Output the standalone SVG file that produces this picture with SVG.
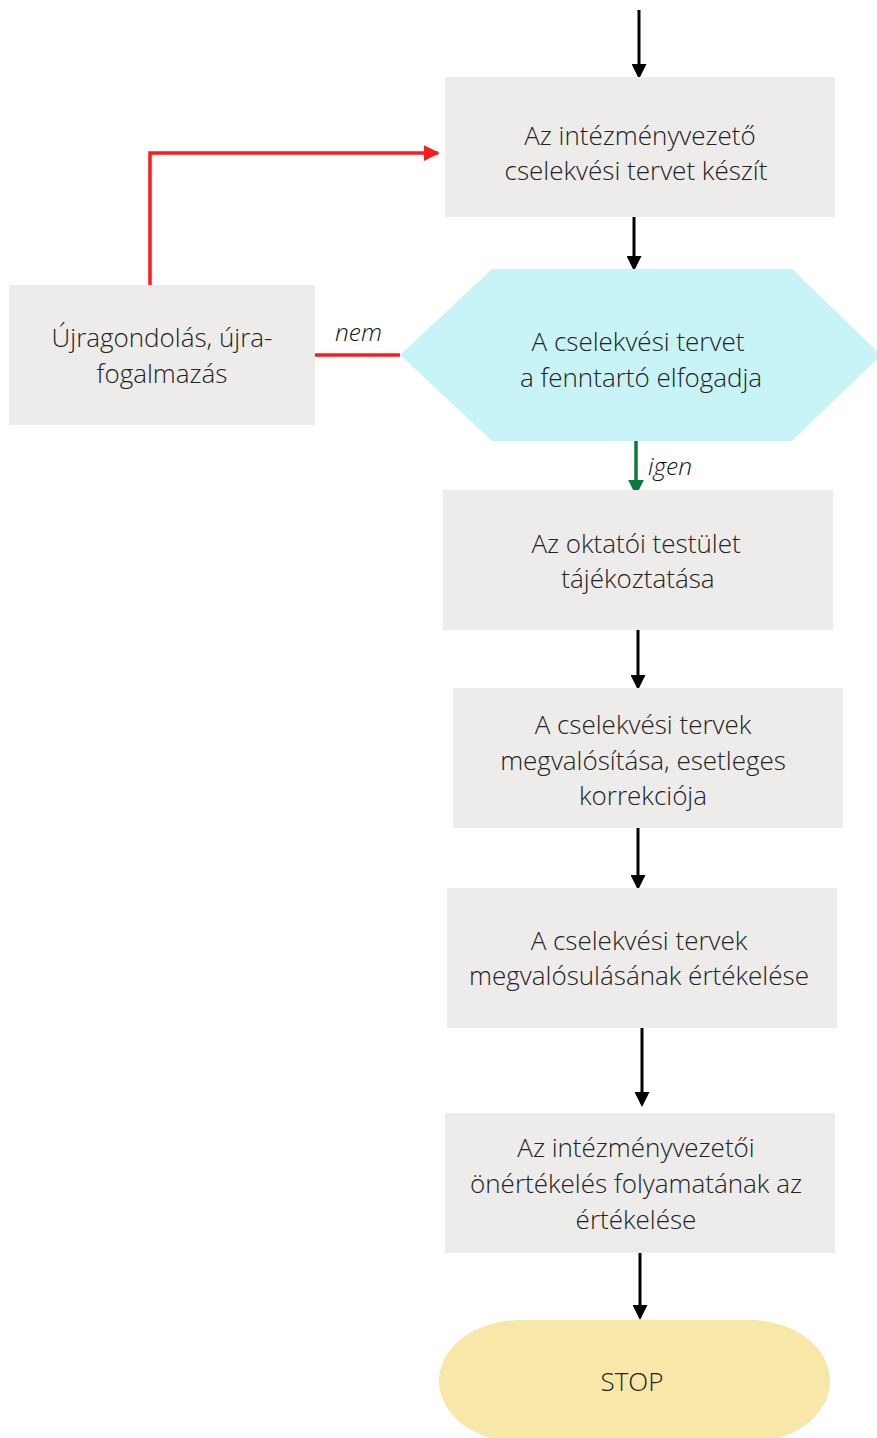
<svg xmlns="http://www.w3.org/2000/svg" width="877" height="1438" viewBox="0 0 877 1438">
  <style>
    .box { fill: #edeceb; }
    .lbl { font-family: "Open Sans", "Liberation Sans", sans-serif; font-weight: 300; font-size: 26px; fill: #222; text-anchor: middle; }
    .tag { font-family: "Open Sans", "Liberation Sans", sans-serif; font-weight: 300; font-style: italic; font-size: 24.5px; fill: #111; }
    .flow { fill: none; stroke: #000; stroke-width: 3; }
    .red { fill: none; stroke: #ff1a1a; stroke-width: 3.5; }
    .green { fill: none; stroke: #0b7a3a; stroke-width: 3.5; }
  </style>
  <defs>
    <marker id="ah" markerWidth="5" markerHeight="5" refX="4" refY="2.5" orient="auto" markerUnits="strokeWidth">
      <path d="M0,0 L5,2.5 L0,5 z" fill="#000"/>
    </marker>
    <marker id="ahRed" markerWidth="4.5" markerHeight="4.5" refX="4" refY="2.25" orient="auto" markerUnits="strokeWidth">
      <path d="M0,0 L4.5,2.25 L0,4.5 z" fill="#ff1a1a"/>
    </marker>
    <marker id="ahGreen" markerWidth="4.5" markerHeight="4.5" refX="4" refY="2.25" orient="auto" markerUnits="strokeWidth">
      <path d="M0,0 L4.5,2.25 L0,4.5 z" fill="#0b7a3a"/>
    </marker>
  </defs>

  <g id="connectors">
    <path class="flow" d="M639,10 V76" marker-end="url(#ah)"/>
    <path class="flow" d="M634,217 V268" marker-end="url(#ah)"/>
    <path class="green" d="M636,441 V494" marker-end="url(#ahGreen)"/>
    <path class="flow" d="M638,630 V687" marker-end="url(#ah)"/>
    <path class="flow" d="M638,828 V887" marker-end="url(#ah)"/>
    <path class="flow" d="M642,1028 V1104" marker-end="url(#ah)"/>
    <path class="flow" d="M640,1253 V1317" marker-end="url(#ah)"/>
    <path class="red" d="M400,355 H315"/>
    <path class="red" d="M150,285 V153 H438" marker-end="url(#ahRed)"/>
    <text class="tag" x="335" y="341">nem</text>
    <text class="tag" x="648" y="475">igen</text>
  </g>

  <g id="node-plan">
    <rect class="box" x="445" y="77" width="390" height="140"/>
    <text class="lbl" x="640" y="145">Az intézményvezető</text>
    <text class="lbl" x="636" y="180">cselekvési tervet készít</text>
  </g>

  <g id="node-decision">
    <polygon points="400,355 492,269 792,269 877,351 877,359 792,441 492,441" fill="#c8f4f7"/>
    <text class="lbl" x="638" y="351">A cselekvési tervet</text>
    <text class="lbl" x="641" y="387">a fenntartó elfogadja</text>
  </g>

  <g id="node-rethink">
    <rect class="box" x="9" y="285" width="306" height="140"/>
    <text class="lbl" x="162" y="347">Újragondolás, újra-</text>
    <text class="lbl" x="162" y="383">fogalmazás</text>
  </g>

  <g id="node-staff">
    <rect class="box" x="443" y="490" width="390" height="140"/>
    <text class="lbl" x="636" y="553">Az oktatói testület</text>
    <text class="lbl" x="638" y="588">tájékoztatása</text>
  </g>

  <g id="node-implement">
    <rect class="box" x="453" y="688" width="390" height="140"/>
    <text class="lbl" x="643" y="734">A cselekvési tervek</text>
    <text class="lbl" x="643" y="770">megvalósítása, esetleges</text>
    <text class="lbl" x="643" y="805">korrekciója</text>
  </g>

  <g id="node-evaluate">
    <rect class="box" x="447" y="888" width="390" height="140"/>
    <text class="lbl" x="639" y="950">A cselekvési tervek</text>
    <text class="lbl" x="639" y="985">megvalósulásának értékelése</text>
  </g>

  <g id="node-selfassess">
    <rect class="box" x="445" y="1113" width="390" height="140"/>
    <text class="lbl" x="636" y="1157">Az intézményvezetői</text>
    <text class="lbl" x="636" y="1193">önértékelés folyamatának az</text>
    <text class="lbl" x="636" y="1229">értékelése</text>
  </g>

  <g id="node-stop">
    <rect x="439" y="1320" width="391" height="122" rx="80" ry="61" fill="#f7e7a8"/>
    <text class="lbl" x="632" y="1391">STOP</text>
  </g>
</svg>
